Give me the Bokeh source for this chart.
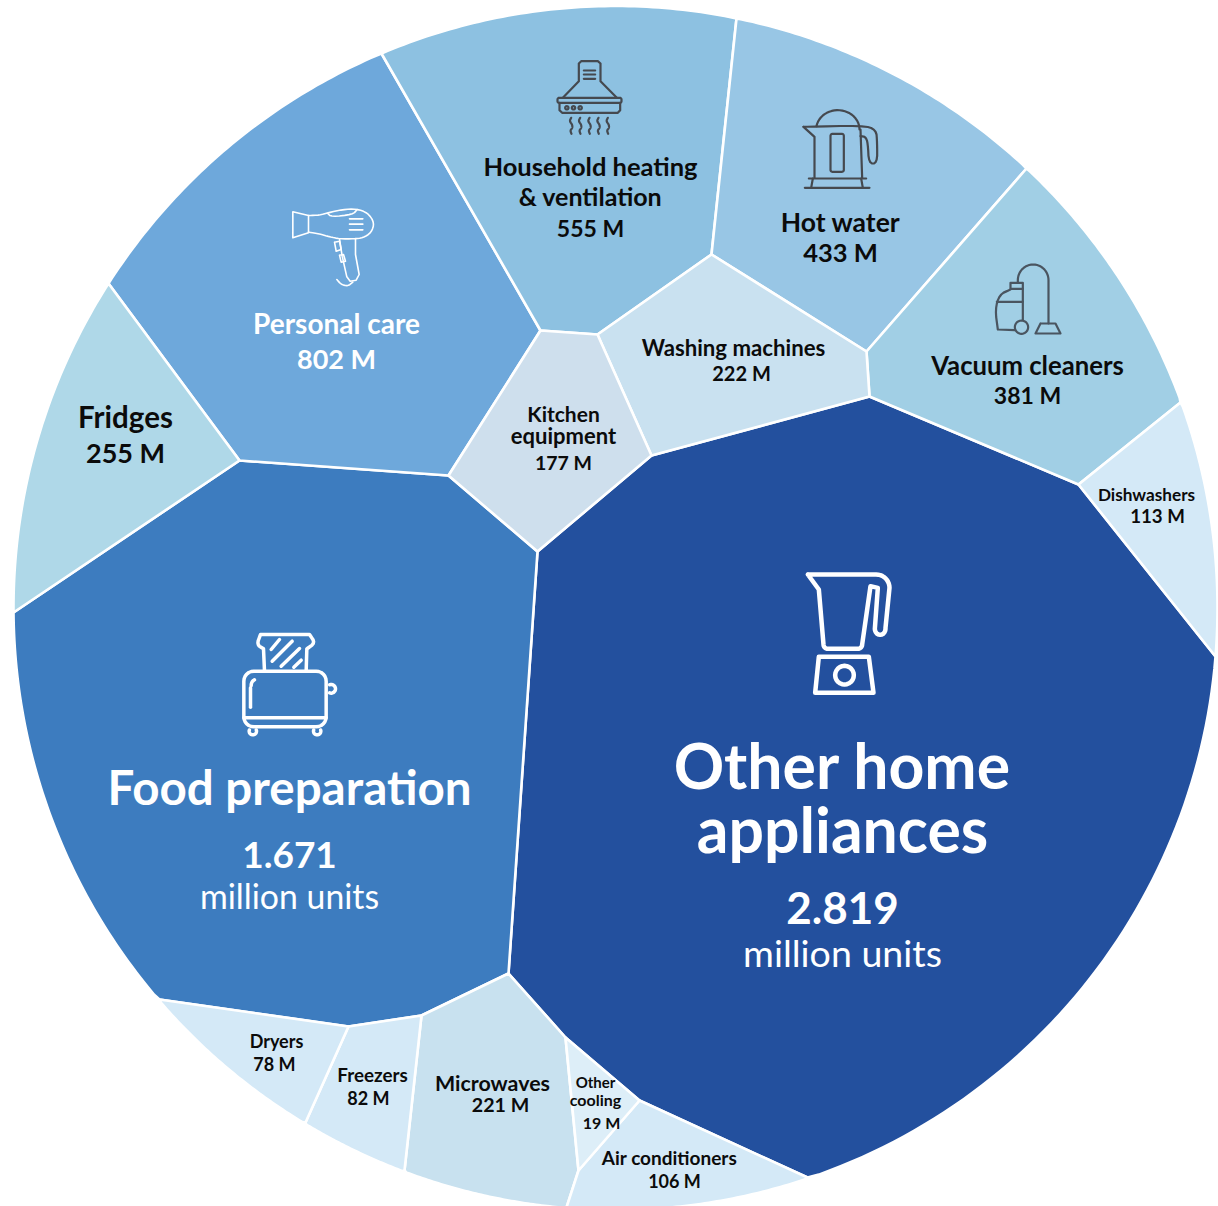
import math
from bokeh.plotting import figure
from bokeh.models import ColumnDataSource, Range1d
from bokeh.core.properties import value
from bokeh.embed import file_html
from bokeh.resources import INLINE

FONT = "Lato"
CENTER = (616.0, 608.5)
RADIUS = 602.0

categories = ["Other home appliances", "Food preparation", "Personal care", "Household heating & ventilation",
              "Hot water", "Vacuum cleaners", "Fridges", "Washing machines", "Microwaves", "Kitchen equipment",
              "Dishwashers", "Air conditioners", "Freezers", "Dryers", "Other cooling"]
values_m = [2819, 1671, 802, 555, 433, 381, 255, 222, 221, 177, 113, 106, 82, 78, 19]
colors = ["#23509E", "#3D7CBF", "#6EA8DB", "#8DC1E1", "#98C6E5", "#A1CFE5", "#AFD8E8", "#C9E1F0", "#C8E1EF",
          "#CEDFED", "#D4E9F7", "#D4E9F7", "#D4E9F7", "#D4E9F7", "#DDEEF8"]
# cell outlines; two neighbouring points on the rim are joined by the outer arc
outlines = [
    [(870, 397), (1079, 485), (1216, 657), (808, 1178), (640, 1101), (566, 1038), (509, 974), (538, 552), (652, 456)],
    [(240, 461), (449, 476), (538, 552), (509, 974), (422, 1016), (349, 1027), (160, 1000), (14, 613)],
    [(109, 284), (382, 54), (541, 331), (449, 476), (240, 461)],
    [(382, 54), (737, 19), (712, 255), (598, 335), (541, 331)],
    [(737, 19), (1027, 169), (867, 352), (712, 255)],
    [(1027, 169), (1181, 403), (1079, 485), (870, 397), (867, 352)],
    [(14, 613), (109, 284), (240, 461)],
    [(712, 255), (867, 352), (870, 397), (652, 456), (598, 335)],
    [(422, 1016), (509, 974), (566, 1038), (579, 1171), (567, 1208), (405, 1171)],
    [(541, 331), (598, 335), (652, 456), (538, 552), (449, 476)],
    [(1181, 403), (1216, 657), (1079, 485)],
    [(579, 1171), (640, 1101), (808, 1178), (567, 1208)],
    [(349, 1027), (422, 1016), (405, 1171), (306, 1123)],
    [(160, 1000), (349, 1027), (306, 1123)],
    [(566, 1038), (640, 1101), (579, 1171)],
]

BLACK = "#0B0B0B"
WHITE = "#FFFFFF"
label_text = ["Other home", "appliances", "2.819", "million units",
              "Food preparation", "1.671", "million units",
              "Personal care", "802 M", "Fridges", "255 M",
              "Household heating", "& ventilation", "555 M",
              "Hot water", "433 M", "Vacuum cleaners", "381 M",
              "Washing machines", "222 M", "Kitchen", "equipment", "177 M",
              "Dishwashers", "113 M", "Dryers", "78 M", "Freezers", "82 M",
              "Microwaves", "221 M", "Other", "cooling", "19 M",
              "Air conditioners", "106 M"]
label_x = [843, 843, 843, 843, 290, 290, 290, 337, 337, 126, 126, 591, 591, 591, 841, 841, 1028, 1028,
           734, 742, 564, 564, 564, 1147, 1158, 277, 275, 373, 369, 493, 501, 596, 596, 602, 670, 675]
label_y = [765, 829, 908, 953, 787, 855, 896, 323, 359, 417, 453, 166, 196, 228, 222, 252, 365, 395,
           348, 373, 414, 436, 463, 495, 516, 1041, 1064, 1075, 1098, 1083, 1105, 1082, 1100, 1123, 1158, 1181]
label_size = [62.5, 62.5, 44, 37.5, 47.5, 37, 33.8, 28, 27, 29.5, 27, 25.5, 25, 23, 26.5, 25.5, 25.7, 23,
              22.2, 20, 21, 22, 19.5, 17.2, 18.7, 18, 18, 18.8, 18, 21.4, 19.6, 15, 16, 16, 19, 18]
label_color = [WHITE] * 9 + [BLACK] * 27
label_style = ["bold", "bold", "bold", "normal", "bold", "bold", "normal"] + ["bold"] * 29


def arc(cx, cy, rx, ry, a0, a1, n=24):
    return [(cx + rx * math.cos(math.radians(a0 + (a1 - a0) * i / n)),
             cy + ry * math.sin(math.radians(a0 + (a1 - a0) * i / n))) for i in range(n + 1)]


def smooth(pts, k=3):
    for _ in range(k):
        out = [pts[0]]
        for a, b in zip(pts, pts[1:]):
            out += [(0.75 * a[0] + 0.25 * b[0], 0.75 * a[1] + 0.25 * b[1]),
                    (0.25 * a[0] + 0.75 * b[0], 0.25 * a[1] + 0.75 * b[1])]
        out.append(pts[-1])
        pts = out
    return pts


def rrect(x0, y0, x1, y1, r):
    return (arc(x1 - r, y0 + r, r, r, -90, 0, 6) + arc(x1 - r, y1 - r, r, r, 0, 90, 6)
            + arc(x0 + r, y1 - r, r, r, 90, 180, 6) + arc(x0 + r, y0 + r, r, r, 180, 270, 6)
            + [(x1 - r, y0)])


def wave(x, y0, y1):
    return smooth([(x, y0), (x - 5, y0 + 10), (x + 3, y0 + 20), (x + 4, y0 + 30), (x - 3, y0 + 38), (x + 1, y1)])


# icon line work in a 3x zoomed frame: (origin x, origin y, colour, stroke, strokes)
blender = (780, 560, WHITE, 4.5, [
    [(85, 45), (290, 45)] + arc(290, 85, 40, 40, -90, 0, 10) + [(318, 205)] + arc(302, 208, 16, 18, 0, 180, 10)
    + [(295, 85), (273, 80), (248, 255)] + arc(235, 255, 13, 13, 0, 90, 6) + arc(145, 255, 13, 13, 90, 180, 6)
    + [(118, 90), (85, 45)],
    [(118, 292), (268, 292), (282, 400), (107, 400), (118, 292)],
    arc(195, 347, 28, 28, 0, 360),
])
toaster = (225, 620, WHITE, 3.5, [
    [(120, 155), (117, 88)] + smooth([(117, 88), (97, 75), (108, 45)], 2) + [(255, 45)]
    + smooth([(255, 45), (272, 70), (247, 88)], 2) + [(245, 155)],
    rrect(58, 155, 305, 322, 30),
    [(58, 295), (305, 295)],
    arc(85, 335, 11, 11, -20, 200), arc(278, 335, 11, 11, -20, 200),
    arc(320, 208, 13, 13, -110, 110),
    [(78, 263), (78, 205)], arc(95, 198, 15, 18, 180, 250, 6),
    [(140, 90), (165, 60)], [(143, 125), (203, 65)], [(170, 140), (225, 87)], [(208, 143), (230, 122)],
])
hood = (530, 40, "#45494F", 2.2, [
    [(100, 175), (148, 125), (148, 72), (155, 65), (205, 65), (213, 72), (213, 125), (262, 175)],
    rrect(84, 175, 276, 190, 5),
    [(90, 190), (90, 212), (98, 220), (265, 220), (272, 212), (272, 190)],
    arc(112, 205, 5, 5, 0, 360), arc(132, 205, 5, 5, 0, 360), arc(152, 205, 5, 5, 0, 360),
    [(163, 93), (197, 93)], [(163, 105), (197, 105)], [(163, 118), (197, 118)],
    wave(125, 235, 283), wave(152, 235, 283), wave(180, 235, 283), wave(207, 235, 283), wave(235, 235, 283),
])
kettle = (530, 40, "#45494F", 2.2, [
    arc(925, 270, 65, 58, 190, 360),
    smooth([(822, 262), (1000, 258), (1040, 270), (1043, 310), (1043, 372), (1018, 372), (1015, 310), (1008, 292), (993, 290)], 2),
    [(822, 262), (855, 292), (855, 415)],
    [(993, 270), (998, 415)],
    rrect(903, 283, 943, 397, 6),
    [(838, 417), (1010, 417)], [(850, 417), (845, 445)], [(995, 417), (1000, 445)], [(826, 445), (1020, 445)],
])
dryer = (220, 190, WHITE, 1.6, [
    [(267, 78), (220, 67), (220, 145), (267, 130), (267, 78)],
    smooth([(267, 78), (300, 77), (325, 70), (370, 60), (410, 58), (445, 70), (465, 100), (455, 130), (430, 145), (405, 148), (360, 148), (330, 142), (300, 133), (267, 128)], 2),
    smooth([(325, 72), (335, 82), (400, 75), (413, 60)], 2),
    [(390, 88), (430, 88)], [(390, 104), (430, 104)], [(390, 121), (430, 121)],
    [(360, 148), (368, 200), (382, 262), (392, 275), (410, 272), (419, 255), (408, 195), (408, 148)],
    [(345, 158), (360, 155), (365, 180), (350, 185), (345, 158)],
    [(360, 197), (372, 195), (378, 215), (365, 218), (360, 197)],
    smooth([(352, 270), (365, 285), (385, 290), (400, 278)], 2),
])
vacuum = (980, 250, "#4A5560", 2.2, [
    [(115, 100)] + arc(161, 92, 46, 47, 180, 360) + [(207, 222)],
    [(183, 222), (228, 222), (243, 252), (168, 252), (183, 222)],
    [(93, 100), (130, 100), (130, 118), (93, 118), (93, 100)],
    smooth([(93, 120), (60, 135), (47, 180), (55, 240)], 2) + [(105, 242)],
    [(52, 157), (130, 157)], [(130, 118), (130, 212)],
    arc(126, 233, 20, 20, 0, 360),
])
icons = [blender, toaster, hood, kettle, dryer, vacuum]


def on_rim(pt):
    return abs(math.hypot(pt[0] - CENTER[0], pt[1] - CENTER[1]) - RADIUS) < 4


def cell_path(outline):
    xs, ys = [], []
    for a, b in zip(outline, outline[1:] + outline[:1]):
        xs.append(a[0]); ys.append(a[1])
        if on_rim(a) and on_rim(b):
            t0 = math.atan2(a[1] - CENTER[1], a[0] - CENTER[0])
            t1 = math.atan2(b[1] - CENTER[1], b[0] - CENTER[0])
            d = (t1 - t0 + math.pi) % (2 * math.pi) - math.pi
            for i in range(1, 60):
                t = t0 + d * i / 60
                xs.append(CENTER[0] + RADIUS * math.cos(t))
                ys.append(CENTER[1] + RADIUS * math.sin(t))
    return xs, ys


W, H = 1218, 1206
p = figure(width=W, height=H, output_backend="svg", toolbar_location=None, min_border=0,
           x_range=Range1d(1, W + 1), y_range=Range1d(H + 1, 1), tools="")
p.axis.visible = False
p.grid.visible = False
p.outline_line_color = None
p.background_fill_color = None
p.border_fill_color = None

paths = [cell_path(o) for o in outlines]
p.patches(source=ColumnDataSource(dict(
    xs=[c[0] for c in paths], ys=[c[1] for c in paths], fill=colors, name=categories, val=values_m)),
    xs="xs", ys="ys", fill_color="fill", line_color="white", line_width=2.6, line_join="round")

for ox, oy, col, width, strokes in icons:
    p.multi_line(xs=[[ox + q[0] / 3 for q in s] for s in strokes],
                 ys=[[oy + q[1] / 3 for q in s] for s in strokes],
                 line_color=col, line_width=width, line_join="round", line_cap="round")

p.text(source=ColumnDataSource(dict(
    x=label_x, y=label_y, t=label_text, fs=[f"{s}px" for s in label_size], c=label_color, st=label_style)),
    x="x", y="y", text="t", text_font=value(FONT), text_font_size="fs", text_color="c", text_font_style="st",
    text_align="center", text_baseline="middle")

open("out.html", "w").write(file_html(p, INLINE))
